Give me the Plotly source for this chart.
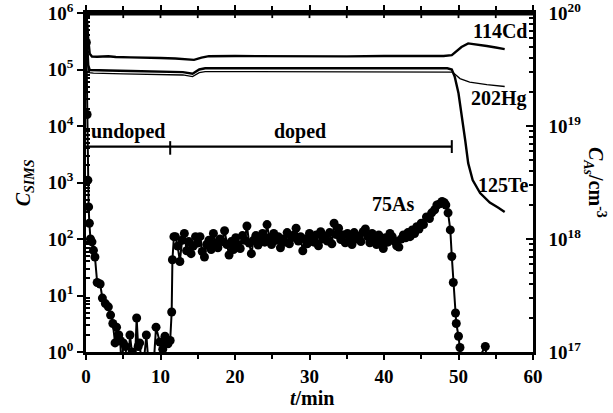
import plotly.graph_objects as go

# ---------------- data ----------------
# 114Cd profile
cd_t = [0.0, 0.15, 0.3, 0.5, 0.8, 1.5, 3.0, 4.0, 6.0, 8.0, 10.0, 12.0, 13.0, 14.5, 15.5, 16.5,
        20.0, 25.0, 30.0, 35.0, 40.0, 45.0, 48.0, 49.1, 49.7, 50.4, 51.3, 52.4, 53.8, 55.0, 56.2]
cd_v = [1.0e6, 7.0e5, 3.5e5, 1.9e5, 1.7e5, 1.68e5, 1.72e5, 1.66e5, 1.64e5, 1.6e5, 1.6e5, 1.57e5,
        1.52e5, 1.48e5, 1.62e5, 1.72e5, 1.73e5, 1.71e5, 1.73e5, 1.71e5, 1.73e5, 1.72e5, 1.73e5,
        1.8e5, 2.1e5, 2.5e5, 2.9e5, 2.8e5, 2.6e5, 2.45e5, 2.3e5]

# 125Te profile
te_t = [0.0, 0.15, 0.3, 0.5, 1.0, 3.0, 6.0, 10.0, 13.0, 14.3, 15.2, 16.0, 20.0, 30.0, 40.0,
        48.5, 49.1, 49.5, 50.0, 50.4, 50.9, 51.3, 51.9, 52.9, 54.2, 55.3, 56.2]
te_v = [8.0e5, 3.0e5, 1.2e5, 9.8e4, 9.7e4, 9.6e4, 9.4e4, 9.2e4, 9.0e4, 8.4e4, 1.0e5, 1.05e5,
        1.05e5, 1.06e5, 1.05e5, 1.05e5, 1.0e5, 7.4e4, 3.8e4, 1.7e4, 5.6e3, 2.2e3, 1.1e3, 650,
        440, 360, 300]

# 202Hg profile
hg_t = [0.0, 0.2, 0.4, 1.0, 5.0, 10.0, 13.0, 14.3, 15.2, 16.0, 30.0, 48.5, 49.2, 50.2, 51.5,
        53.8, 56.2]
hg_v = [5.0e5, 1.5e5, 8.8e4, 8.6e4, 8.4e4, 8.2e4, 8.0e4, 7.5e4, 8.8e4, 9.2e4, 9.2e4, 9.2e4,
        9.0e4, 6.9e4, 6.0e4, 5.4e4, 5.0e4]

# 75As profile (counts)
as_t = [0.05, 0.15, 0.25, 0.35, 0.45, 0.6, 0.8, 1.0, 1.2, 1.5, 1.9, 2.2, 2.6, 3.0, 3.3, 3.6,
        3.9, 4.1, 4.4, 4.6, 4.8, 5.0, 5.3, 5.6, 5.9, 6.2, 6.5, 6.8, 7.0, 7.2, 7.6, 8.1, 8.5,
        9.0, 9.4, 9.9, 10.3, 10.6, 11.0, 11.3, 11.5, 11.6, 11.8,
        12.0, 12.3, 12.6, 12.9, 13.2, 13.5, 13.8, 14.1, 14.4, 14.7, 15.0, 15.3, 15.6, 15.9,
        16.2, 16.5, 16.8, 17.1, 17.4, 17.7, 18.0, 18.3, 18.6, 18.9, 19.2, 19.5, 19.8, 20.1,
        20.4, 20.7, 21.0, 21.3, 21.6, 21.9, 22.2, 22.5, 22.8, 23.1, 23.4, 23.7, 24.0, 24.3,
        24.6, 24.9, 25.2, 25.5, 25.8, 26.1, 26.4, 26.7, 27.0, 27.3, 27.6, 27.9, 28.2, 28.5,
        28.8, 29.1, 29.4, 29.7, 30.0, 30.3, 30.6, 30.9, 31.2, 31.5, 31.8, 32.1, 32.4, 32.7,
        33.0, 33.3, 33.6, 33.9, 34.2, 34.5, 34.8, 35.1, 35.4, 35.7, 36.0, 36.3, 36.6, 36.9,
        37.2, 37.5, 37.8, 38.1, 38.4, 38.7, 39.0, 39.3, 39.6, 39.9, 40.2, 40.5, 40.8, 41.1,
        41.4, 41.7, 42.0, 42.3, 42.6, 42.9, 43.2, 43.5, 43.8, 44.1, 44.4, 44.7, 45.0, 45.3,
        45.7, 46.1, 46.4, 46.8, 47.1, 47.5, 47.8, 48.1, 48.3, 48.6, 48.9, 49.1, 49.3, 49.6,
        49.7, 50.0, 50.2, 50.5, 51.5, 53.6, 54.0]
as_v = [3.0e5, 1.6e4, 1100, 370, 190, 100, 89, 63, 48, 17, 16, 9, 7.2, 6.3, 4.5, 3.2,
        1.45, 2.75, 2.0, 1.6, 0.4, 1.45, 1.25, 0.4, 2.0, 1.0, 0.4, 4.0, 1.25, 1.45, 0.4, 2.0, 0.4,
        0.4, 2.75, 1.5, 1.12, 1.9, 1.4, 1.6, 5.1, 43, 110,
        110, 75, 40, 95, 125, 62, 90, 55, 75, 110, 85, 110, 60, 48,
        80, 95, 65, 125, 85, 70, 100, 90, 140, 80, 52, 90, 65, 105,
        80, 68, 115, 95, 170, 85, 55, 95, 115, 78, 100, 125, 88, 180,
        105, 80, 125, 95, 110, 70, 100, 88, 130, 82, 105, 118, 155, 92,
        110, 62, 100, 82, 125, 105, 88, 118, 76, 135, 100, 112, 92, 130,
        82, 190, 120, 155, 98, 118, 86, 125, 105, 80, 130, 100, 112, 90,
        135, 150, 110, 86, 125, 100, 80, 118, 92, 68, 105, 88, 125, 110,
        92, 76, 72, 100, 118, 105, 130, 110, 145, 125, 165, 150, 190, 180,
        245, 230, 290, 330, 400, 420, 460, 440, 400, 290, 145, 49, 17, 4.9,
        3.2, 1.9, 1.2, 0.5, 0.4, 1.25, 0.4]

# axis ticks
x_ticks = [0, 10, 20, 30, 40, 50, 60]
x_ticklabels = ["0", "10", "20", "30", "40", "50", "60"]
x_minor = [5, 15, 25, 35, 45, 55]
left_exps = [0, 1, 2, 3, 4, 5, 6]
right_exps = [17, 18, 19, 20]

FONT = "Liberation Serif"
BLACK = "#000000"

fig = go.Figure()

fig.add_trace(go.Scatter(x=cd_t, y=cd_v, mode="lines", line=dict(color=BLACK, width=2.4),
                         showlegend=False, hoverinfo="skip"))
fig.add_trace(go.Scatter(x=te_t, y=te_v, mode="lines", line=dict(color=BLACK, width=2.4),
                         showlegend=False, hoverinfo="skip"))
fig.add_trace(go.Scatter(x=hg_t, y=hg_v, mode="lines", line=dict(color=BLACK, width=1.3),
                         showlegend=False, hoverinfo="skip"))
fig.add_trace(go.Scatter(x=as_t, y=as_v, mode="lines+markers",
                         line=dict(color=BLACK, width=2),
                         marker=dict(color=BLACK, size=9, symbol="circle"),
                         showlegend=False, hoverinfo="skip"))
# empty trace so that the right-hand axis is drawn
fig.add_trace(go.Scatter(x=[], y=[], xaxis="x", yaxis="y2", mode="lines",
                         showlegend=False, hoverinfo="skip"))

tickfont = dict(family=FONT, size=19, color=BLACK, weight="bold")

left_minor = [k * 10.0 ** n for n in range(0, 6) for k in range(2, 10)]
right_minor = [k * 10.0 ** n for n in range(17, 20) for k in range(2, 10)]

fig.update_layout(
    width=613, height=413,
    margin=dict(l=86, r=80, t=13, b=61, autoexpand=False),
    paper_bgcolor="white", plot_bgcolor="white",
    showlegend=False,
    xaxis=dict(
        range=[0, 60], showgrid=False, zeroline=False, automargin=False,
        showline=True, linecolor=BLACK, linewidth=2.5, mirror="ticks",
        tickmode="array", tickvals=x_ticks, ticktext=x_ticklabels,
        ticks="outside", ticklen=5, tickwidth=2, tickcolor=BLACK,
        minor=dict(tickmode="array", tickvals=x_minor, ticks="outside", ticklen=4,
                   tickwidth=2, tickcolor=BLACK, showgrid=False),
        tickfont=tickfont, ticklabeloverflow="allow",
    ),
    yaxis=dict(
        type="log", range=[0, 6], showgrid=False, zeroline=False, automargin=False,
        showline=True, linecolor=BLACK, linewidth=2.5, mirror=False,
        tickmode="array", tickvals=[10.0 ** e for e in left_exps],
        ticktext=["10<sup>%d</sup>" % e for e in left_exps],
        ticks="outside", ticklen=6, tickwidth=2, tickcolor=BLACK,
        minor=dict(tickmode="array", tickvals=left_minor, ticks="inside", ticklen=4,
                   tickwidth=1.5, tickcolor=BLACK, showgrid=False),
        tickfont=tickfont, ticklabeloverflow="allow",
    ),
    yaxis2=dict(
        type="log", range=[17, 20], overlaying="y", side="right", anchor="x",
        showgrid=False, zeroline=False, automargin=False,
        showline=True, linecolor=BLACK, linewidth=2.5,
        tickmode="array", tickvals=[10.0 ** e for e in right_exps],
        ticktext=["10<sup>%d</sup>" % e for e in right_exps],
        ticks="inside", ticklen=7, tickwidth=2, tickcolor=BLACK,
        minor=dict(tickmode="array", tickvals=right_minor, ticks="inside", ticklen=4,
                   tickwidth=1.5, tickcolor=BLACK, showgrid=False),
        tickfont=tickfont, ticklabeloverflow="allow", ticklabelstandoff=9,
    ),
)

# top frame line (drawn like the bracket: x in data units, y in paper units)
fig.add_shape(type="line", xref="x", yref="paper", x0=0, x1=60, y0=0.996, y1=0.996,
              line=dict(color=BLACK, width=2.5))
for xt in x_ticks[1:-1] + x_minor:
    fig.add_shape(type="line", xref="x", yref="paper", x0=xt, x1=xt, y0=0.985, y1=0.998,
                  line=dict(color=BLACK, width=1.8))

# undoped / doped bracket
bracket_y = 0.6056
fig.add_shape(type="line", xref="x", yref="paper", x0=0, x1=49.1, y0=bracket_y, y1=bracket_y,
              line=dict(color=BLACK, width=2.2))
fig.add_shape(type="line", xref="x", yref="paper", x0=11.3, x1=11.3, y0=0.582, y1=0.622,
              line=dict(color=BLACK, width=2))
fig.add_shape(type="line", xref="x", yref="paper", x0=49.1, x1=49.1, y0=0.587, y1=0.625,
              line=dict(color=BLACK, width=2))

labfont = dict(family=FONT, size=20, color=BLACK, weight="bold")


def label(text, x, ylog, **kw):
    fig.add_annotation(text=text, x=x, y=ylog, xref="x", yref="y", showarrow=False,
                       font=labfont, xanchor="center", yanchor="middle", **kw)


label("undoped", 5.7, 3.91)
label("doped", 28.7, 3.91)
label("114Cd", 55.6, 5.68)
label("202Hg", 55.4, 4.48)
label("125Te", 56.0, 2.96)
label("75As", 41.2, 2.62)

# axis titles
fig.add_annotation(text="<i>C</i><sub><i>SIMS</i></sub>", xref="paper", yref="paper",
                   x=-0.137, y=0.5, textangle=-90, showarrow=False, font=labfont,
                   xanchor="center", yanchor="middle")
fig.add_annotation(text="<i>C</i><sub><i>As</i></sub>/cm<sup>-3</sup>", xref="paper", yref="paper",
                   x=1.14, y=0.5, textangle=90, showarrow=False, font=labfont,
                   xanchor="center", yanchor="middle")
fig.add_annotation(text="<i>t</i>/min", xref="paper", yref="paper",
                   x=0.506, y=-0.136, showarrow=False, font=labfont,
                   xanchor="center", yanchor="middle")

fig.write_html("out.html")
